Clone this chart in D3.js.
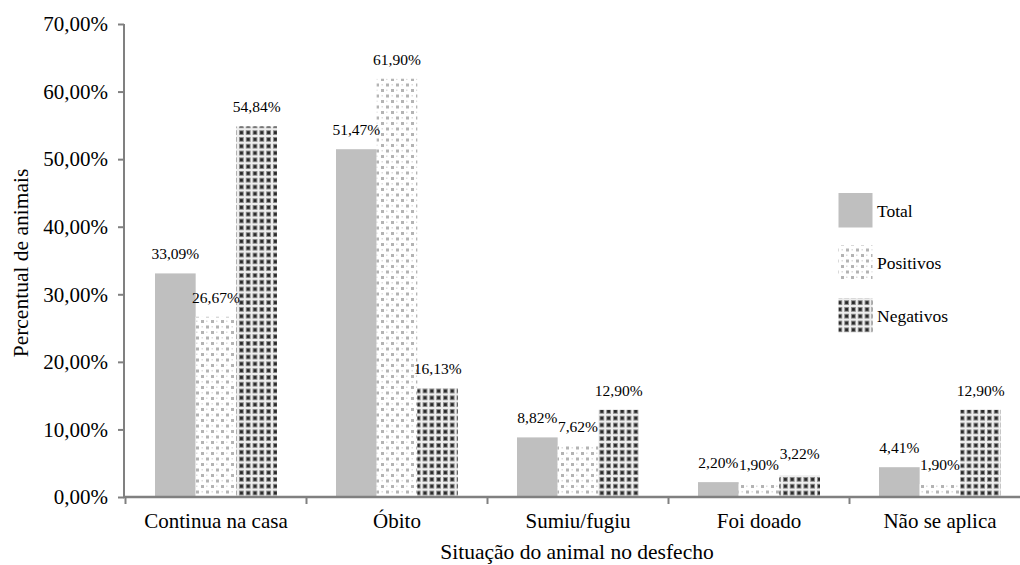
<!DOCTYPE html>
<html>
<head>
<meta charset="utf-8">
<script src="https://cdn.jsdelivr.net/npm/d3@7"></script>
<style>
  html, body { margin: 0; padding: 0; background: #fff; }
  svg { display: block; font-family: "Liberation Serif", "Times New Roman", serif; }
</style>
</head>
<body>
<svg id="chart" width="1020" height="565"></svg>
<script>
// Situação do animal no desfecho, percentual por grupo
const categories = ["Continua na casa", "Óbito", "Sumiu/fugiu", "Foi doado", "Não se aplica"];
const seriesNames = ["Total", "Positivos", "Negativos"];
const totalValues = [33.09, 51.47, 8.82, 2.20, 4.41];
const positivosValues = [26.67, 61.90, 7.62, 1.90, 1.90];
const negativosValues = [54.84, 16.13, 12.90, 3.22, 12.90];
const yTicks = [0, 10, 20, 30, 40, 50, 60, 70];

const seriesValues = [totalValues, positivosValues, negativosValues];
const fmt = v => d3.format(".2f")(v).replace(".", ",") + "%";

const svg = d3.select("#chart");
const axisColor = "#808080";

// Fill patterns
const defs = svg.append("defs");

const pPos = defs.append("pattern")
  .attr("id", "pat-pos").attr("patternUnits", "userSpaceOnUse")
  .attr("width", 10).attr("height", 11);
pPos.append("rect").attr("width", 10).attr("height", 11).attr("fill", "#ffffff");
pPos.append("rect").attr("x", 1).attr("y", 1).attr("width", 3).attr("height", 3).attr("fill", "#b4b4b4");
pPos.append("rect").attr("x", 6).attr("y", 6.5).attr("width", 3).attr("height", 3).attr("fill", "#b4b4b4");
pPos.append("rect").attr("x", 6).attr("y", 1.5).attr("width", 1.5).attr("height", 1.5).attr("fill", "#dcdcdc");
pPos.append("rect").attr("x", 1.5).attr("y", 7).attr("width", 1.5).attr("height", 1.5).attr("fill", "#dcdcdc");

const pNeg = defs.append("pattern")
  .attr("id", "pat-neg").attr("patternUnits", "userSpaceOnUse")
  .attr("width", 6.8).attr("height", 6.8);
pNeg.append("rect").attr("width", 6.8).attr("height", 6.8).attr("fill", "#eeeeee");
pNeg.append("rect").attr("x", 1).attr("y", 1).attr("width", 4.8).attr("height", 4.8).attr("fill", "#8a8a8a");
pNeg.append("rect").attr("x", 2).attr("y", 2).attr("width", 2.8).attr("height", 2.8).attr("fill", "#262626");

const fills = ["#bfbfbf", "url(#pat-pos)", "url(#pat-neg)"];

// Scales
const x0 = 125.5, step = 181;
const x = d3.scaleBand().domain(categories).range([x0, x0 + step * categories.length]).padding(0);
const groupWidth = 122;
const xs = d3.scaleBand().domain(seriesNames).range([(step - groupWidth) / 2, (step + groupWidth) / 2]).padding(0);
const y = d3.scaleLinear().domain([0, 70]).range([497, 24]);

// Bars
const g = svg.append("g");
categories.forEach((cat, ci) => {
  seriesNames.forEach((s, si) => {
    const v = seriesValues[si][ci];
    g.append("rect")
      .attr("x", x(cat) + xs(s))
      .attr("y", y(v))
      .attr("width", xs.bandwidth())
      .attr("height", y(0) - y(v))
      .attr("fill", fills[si]);
  });
});

// Value labels
const labelDy = { "Negativos|Foi doado": -2 };
categories.forEach((cat, ci) => {
  seriesNames.forEach((s, si) => {
    const v = seriesValues[si][ci];
    g.append("text")
      .attr("x", x(cat) + xs(s) + xs.bandwidth() / 2)
      .attr("y", y(v) - 14 + (labelDy[s + "|" + cat] || 0))
      .attr("text-anchor", "middle")
      .attr("font-size", 15.5)
      .attr("fill", "#000")
      .text(fmt(v));
  });
});

// Y axis
const yAxis = svg.append("g").attr("transform", "translate(124,0)")
  .call(d3.axisLeft(y).tickValues(yTicks).tickSize(6).tickFormat(d => fmt(d)));
yAxis.select(".domain").attr("stroke", axisColor).attr("stroke-width", 2).attr("d", `M0,${y(70)}V${y(0)}`);
yAxis.selectAll(".tick line").attr("stroke", axisColor).attr("stroke-width", 2);
yAxis.selectAll(".tick text").attr("font-size", 21).attr("font-family", "Liberation Serif").attr("fill", "#000").attr("x", -16);

// X axis
const xAxis = svg.append("g").attr("transform", `translate(0,${y(0)})`);
xAxis.append("line").attr("x1", 123).attr("x2", 1020).attr("y1", 0).attr("y2", 0)
  .attr("stroke", axisColor).attr("stroke-width", 2.5);
const boundaries = d3.range(categories.length + 1).map(i => x0 + i * step).filter(b => b < 1020);
xAxis.selectAll(".xtick").data(boundaries).join("line")
  .attr("x1", d => d).attr("x2", d => d).attr("y1", 0).attr("y2", 7)
  .attr("stroke", axisColor).attr("stroke-width", 2);
xAxis.selectAll(".xlab").data(categories).join("text")
  .attr("x", d => x(d) + step / 2).attr("y", 31)
  .attr("text-anchor", "middle").attr("font-size", 21).attr("fill", "#000")
  .text(d => d);

// Axis titles
svg.append("text").attr("x", 577).attr("y", 559).attr("text-anchor", "middle")
  .attr("font-size", 21.5).attr("fill", "#000").text("Situação do animal no desfecho");
svg.append("text").attr("transform", "translate(28,263) rotate(-90)").attr("text-anchor", "middle")
  .attr("font-size", 21.5).attr("fill", "#000").text("Percentual de animais");

// Legend
const legend = svg.append("g");
const legendY = [193, 245.5, 298];
seriesNames.forEach((s, i) => {
  legend.append("rect").attr("x", 838.5).attr("y", legendY[i]).attr("width", 34).attr("height", 34.5)
    .attr("fill", fills[i]);
  legend.append("text").attr("x", 877).attr("y", legendY[i] + 23.5)
    .attr("font-size", 17.5).attr("fill", "#000").text(s);
});
</script>
</body>
</html>
